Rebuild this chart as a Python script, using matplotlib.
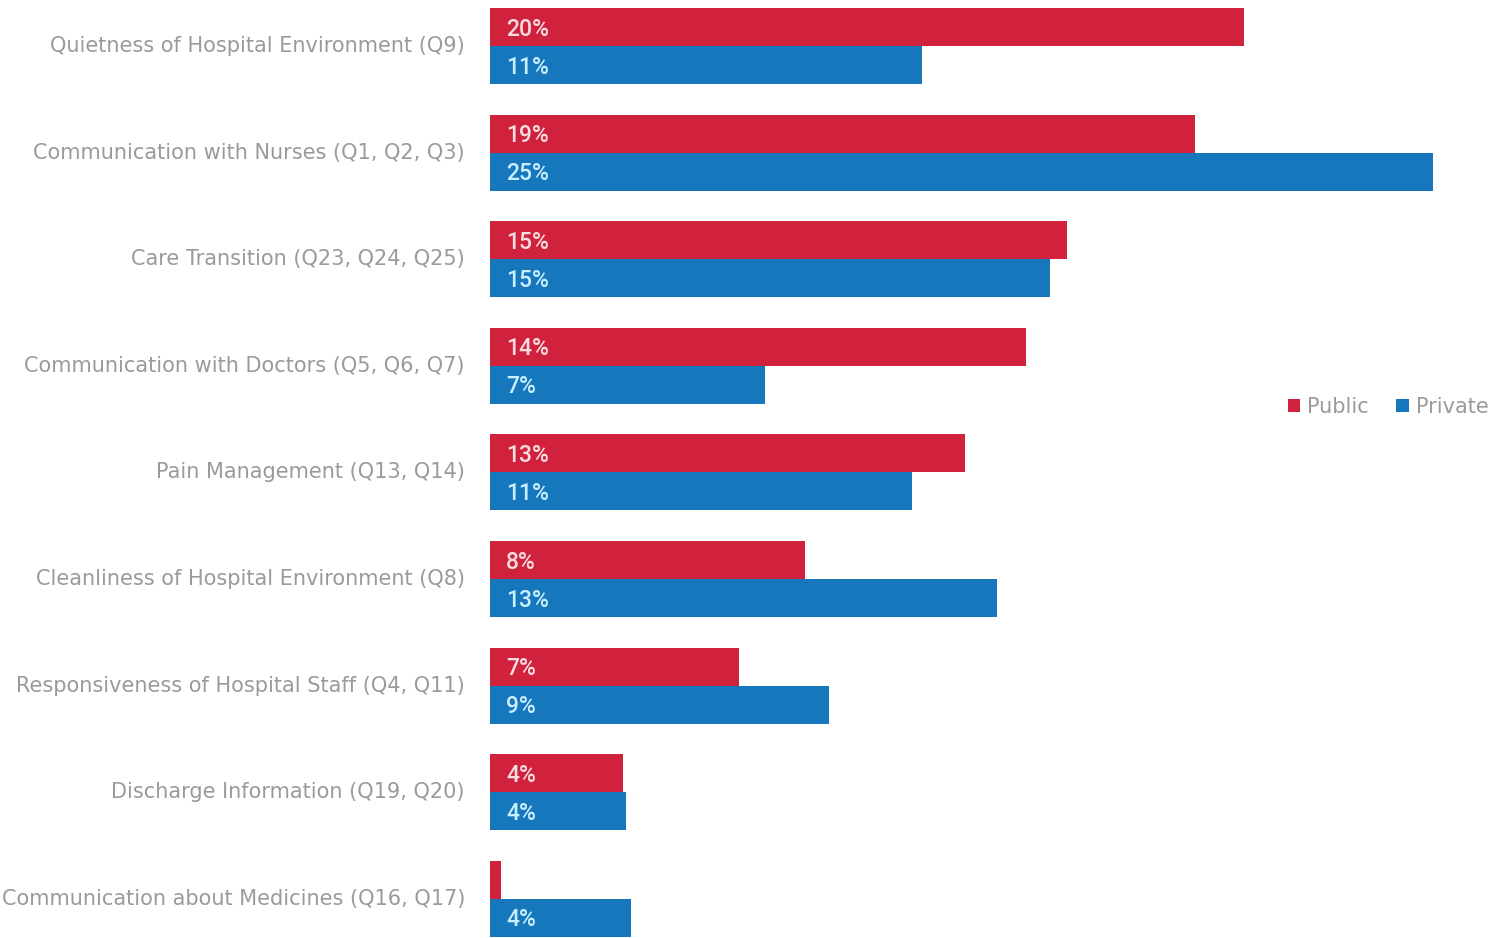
import matplotlib
matplotlib.use("Agg")
import matplotlib.pyplot as plt
from matplotlib.patches import Patch

categories = [
    "Quietness of Hospital Environment (Q9)",
    "Communication with Nurses (Q1, Q2, Q3)",
    "Care Transition (Q23, Q24, Q25)",
    "Communication with Doctors (Q5, Q6, Q7)",
    "Pain Management (Q13, Q14)",
    "Cleanliness of Hospital Environment (Q8)",
    "Responsiveness of Hospital Staff (Q4, Q11)",
    "Discharge Information (Q19, Q20)",
    "Communication about Medicines (Q16, Q17)",
]
public = [20.0, 18.7, 15.3, 14.2, 12.6, 8.35, 6.6, 3.53, 0.3]
private = [11.45, 25.0, 14.85, 7.3, 11.2, 13.45, 9.0, 3.6, 3.74]
public_labels = ["20%", "19%", "15%", "14%", "13%", "8%", "7%", "4%", ""]
private_labels = ["11%", "25%", "15%", "7%", "11%", "13%", "9%", "4%", "4%"]
series_names = ["Public", "Private"]

RED = "#D0223C"
BLUE = "#1677BD"
RED_TXT = "#F7DCE0"
BLUE_TXT = "#C8EEFF"
GRAY = "#9A9A9A"

W, H = 1497, 938
fig = plt.figure(figsize=(W / 100, H / 100), dpi=100)
px = 37.72  # pixels per percent
ax = fig.add_axes([490 / W, 0, 1007 / W, 1])
ax.set_xlim(0, 1007 / px)
pitch = 106.6
ax.set_ylim((H - 46) / pitch, -46 / pitch)

bh = 38 / pitch
ys = list(range(len(categories)))
ax.barh([y - bh / 2 for y in ys], public, height=bh, color=RED, align="center")
ax.barh([y + bh / 2 for y in ys], private, height=bh, color=BLUE, align="center")

off = 16 / px
for y, lab in zip(ys, public_labels):
    if lab:
        ax.text(off, y - bh / 2 + 0.02, lab, color=RED_TXT, fontsize=16.5, va="center",
                ha="left", family="Roboto", fontweight="medium")
for y, lab in zip(ys, private_labels):
    ax.text(off, y + bh / 2 + 0.02, lab, color=BLUE_TXT, fontsize=16.5, va="center",
            ha="left", family="Roboto", fontweight="medium")

for y, cat in zip(ys, categories):
    ax.text(-25 / px, y, cat, color=GRAY, fontsize=15, va="center", ha="right",
            family="DejaVu Sans")

for s in ax.spines.values():
    s.set_visible(False)
ax.set_xticks([])
ax.set_yticks([])

handles = [Patch(facecolor=RED, label=series_names[0]),
           Patch(facecolor=BLUE, label=series_names[1])]
leg = ax.legend(handles=handles, loc="center right", bbox_to_anchor=(1.0, 1 - 407 / H),
                ncol=2, frameon=False, handlelength=0.6, handleheight=0.6,
                handletextpad=0.35, columnspacing=1.3, borderaxespad=0.0,
                prop={"family": "DejaVu Sans", "size": 15})
for t in leg.get_texts():
    t.set_color(GRAY)

fig.savefig("out.png", dpi=100)
